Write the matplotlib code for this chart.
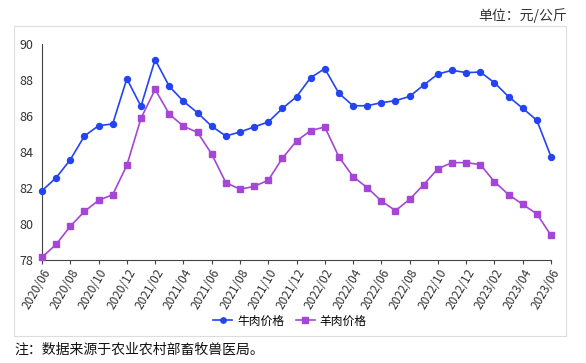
import matplotlib.pyplot as plt
from matplotlib.patches import Rectangle

plt.rcParams['font.family'] = ['Noto Sans CJK SC', 'DejaVu Sans']

# months 2020/06 .. 2023/06
months = []
y, m = 2020, 6
while (y, m) <= (2023, 6):
    months.append('%d/%02d' % (y, m))
    m += 1
    if m > 12:
        y, m = y + 1, 1

beef = [81.85, 82.57, 83.57, 84.89, 85.46, 85.56, 88.07, 86.54, 89.13, 87.65,
        86.82, 86.18, 85.43, 84.89, 85.11, 85.39, 85.67, 86.42, 87.07, 88.13,
        88.63, 87.26, 86.57, 86.57, 86.74, 86.85, 87.09, 87.72, 88.33, 88.54,
        88.41, 88.44, 87.85, 87.07, 86.43, 85.76, 83.74]
mutton = [78.15, 78.87, 79.87, 80.70, 81.31, 81.63, 83.26, 85.87, 87.48, 86.11,
          85.43, 85.09, 83.89, 82.30, 81.93, 82.09, 82.43, 83.65, 84.61, 85.19,
          85.39, 83.73, 82.63, 82.02, 81.28, 80.74, 81.37, 82.19, 83.07, 83.41,
          83.41, 83.30, 82.35, 81.63, 81.09, 80.56, 79.37]

fig = plt.figure(figsize=(5.86, 3.63), dpi=100)
ax = fig.add_axes([42/586, 1-260/363, (551-42)/586, (260-44)/363])

# light frame round the chart
fig.patches.append(Rectangle((14/586, 1-336/363), (566-14)/586, (336-26)/363,
                             transform=fig.transFigure, fill=False,
                             edgecolor='#dddddd', linewidth=0.8))

x = list(range(len(months)))
ax.plot(x, beef, color='#2444f2', marker='o', markersize=4.3, linewidth=1.2,
        label='牛肉价格', clip_on=False, zorder=3)
ax.plot(x, mutton, color='#a447d6', marker='s', markersize=4.3, linewidth=1.2,
        label='羊肉价格', clip_on=False, zorder=3)

ax.set_xlim(0, len(months) - 1)
ax.set_ylim(78, 90)
ax.set_yticks(range(78, 91, 2))
ax.set_xticks(x[::2])
ax.set_xticklabels(months[::2], rotation=60, ha='right', rotation_mode='anchor',
                   fontsize=8.5, color='#333333')
ax.tick_params(axis='y', length=0, labelsize=9, labelcolor='#333333', pad=6)
ax.tick_params(axis='x', length=3, color='#444444', pad=2)

for s in ['top', 'right']:
    ax.spines[s].set_visible(False)
for s in ['left', 'bottom']:
    ax.spines[s].set_color('#444444')

ax.legend(loc='center', bbox_to_anchor=(290/586, 1-321/363),
          bbox_transform=fig.transFigure, ncol=2, frameon=False,
          fontsize=8.5, handlelength=1.6, columnspacing=1.0, handletextpad=0.4,
          markerscale=0.9)

fig.text(567/586, 1-16/363, '单位：元/公斤', ha='right', va='center',
         fontsize=10, color='#333333')
fig.text(14/586, 1-350/363, '注：数据来源于农业农村部畜牧兽医局。', ha='left',
         va='center', fontsize=10, color='#111111')

fig.savefig('out.png', dpi=100)
